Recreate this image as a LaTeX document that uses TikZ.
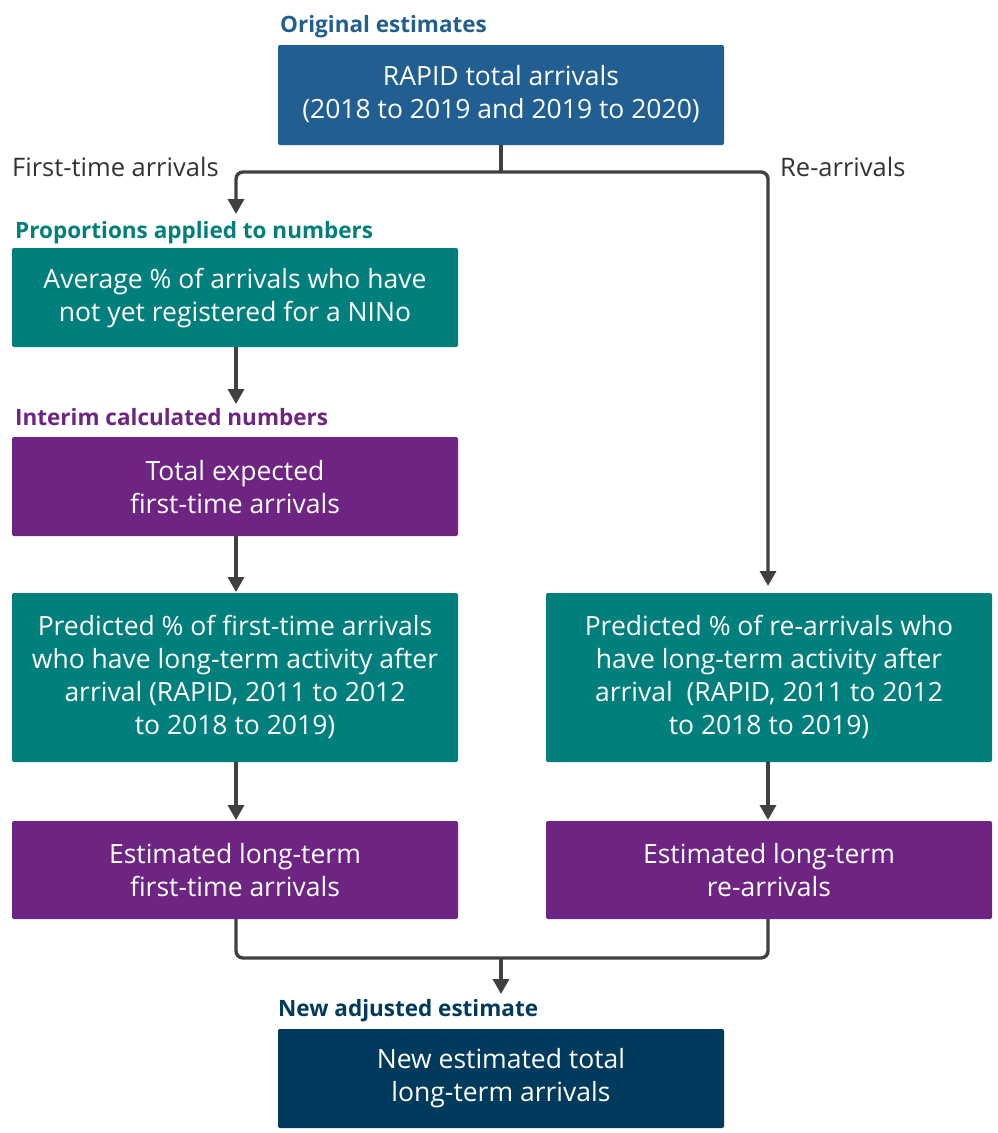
\documentclass[tikz,border=0pt]{standalone}
\usepackage{fontspec}
\setmainfont{Open Sans}
\usetikzlibrary{arrows.meta}
\definecolor{cblue}{RGB}{33,94,145}
\definecolor{cteal}{RGB}{0,127,124}
\definecolor{cpurple}{RGB}{110,36,130}
\definecolor{cnavy}{RGB}{0,58,92}
\definecolor{cline}{RGB}{64,64,64}
\definecolor{ctext}{RGB}{50,50,50}
\tikzset{
  box/.style={rounded corners=2pt, text=white, align=center, inner sep=0pt,
    font=\fontsize{26.5}{33}\selectfont},
  hdr/.style={anchor=base west, inner sep=0pt, font=\fontsize{22.5}{26}\selectfont\bfseries},
  lbl/.style={anchor=base west, inner sep=0pt, text=ctext, font=\fontsize{25.5}{28}\selectfont},
  conn/.style={draw=cline, line width=3.4pt, rounded corners=7pt},
  arr/.style={conn, -{Triangle[width=16pt,length=15pt]}},
}
\begin{document}
\begin{tikzpicture}[x=1pt,y=-1pt]
\useasboundingbox (0,0) rectangle (997,1133);
% boxes
\fill[cblue, rounded corners=2pt] (278,45) rectangle (724,145);
\node[box] (top) at (501,94) {RAPID total arrivals\\(2018 to 2019 and 2019 to 2020)};
\coordinate (topS) at (501,145);

\fill[cteal, rounded corners=2pt] (12,248) rectangle (458,347);
\node[box] (avg) at (235,298) {Average \% of arrivals who have\\not yet registered for a NINo};
\coordinate (avgT) at (236,214); \coordinate (avgS) at (236,347);

\fill[cpurple, rounded corners=2pt] (12,437) rectangle (458,536);
\node[box] (tot) at (235,487) {Total expected\\first-time arrivals};
\coordinate (totT) at (236,404); \coordinate (totS) at (236,536);

\fill[cteal, rounded corners=2pt] (12,593) rectangle (458,762);
\node[box] (predL) at (235,677) {Predicted \% of first-time arrivals\\who have long-term activity after\\arrival (RAPID, 2011 to 2012\\to 2018 to 2019)};
\coordinate (predLT) at (236,592); \coordinate (predLS) at (236,762);

\fill[cteal, rounded corners=2pt] (546,593) rectangle (992,762);
\node[box] (predR) at (769,677) {Predicted \% of re-arrivals who\\have long-term activity after\\arrival\ \ (RAPID, 2011 to 2012\\to 2018 to 2019)};
\coordinate (predRT) at (768,586); \coordinate (predRS) at (768,762);

\fill[cpurple, rounded corners=2pt] (12,821) rectangle (458,919);
\node[box] (estL) at (235,870) {Estimated long-term\\first-time arrivals};
\coordinate (estLT) at (236,820); \coordinate (estLS) at (236,919);

\fill[cpurple, rounded corners=2pt] (546,821) rectangle (992,919);
\node[box] (estR) at (769,870) {Estimated long-term\\re-arrivals};
\coordinate (estRT) at (768,820); \coordinate (estRS) at (768,919);

\fill[cnavy, rounded corners=2pt] (278,1029) rectangle (724,1128);
\node[box] (new) at (501,1078) {New estimated total\\long-term arrivals};
\coordinate (newT) at (501,994);

% headers
\node[hdr, text=cblue] (h1) at (280,32) {Original estimates};
\node[hdr, text=cteal] (h2) at (15,238) {Proportions applied to numbers};
\node[hdr, text=cpurple] (h3) at (15,425) {Interim calculated numbers};
\node[hdr, text=cnavy] (h4) at (278,1016) {New adjusted estimate};
\node[lbl] (l1) at (12,176) {First-time arrivals};
\node[lbl] (l2) at (780,176) {Re-arrivals};

% connectors
\coordinate (split) at (501,172);
\coordinate (merge) at (501,958);
\draw[conn] (topS) -- (split);
\draw[arr] (split) -| (avgT);
\draw[arr] (split) -| (predRT);
\draw[arr] (avgS) -- (totT);
\draw[arr] (totS) -- (predLT);
\draw[arr] (predLS) -- (estLT);
\draw[arr] (predRS) -- (estRT);
\draw[conn] (estLS) |- (merge);
\draw[conn] (estRS) |- (merge);
\draw[arr] (merge) -- (newT);
\end{tikzpicture}
\end{document}
